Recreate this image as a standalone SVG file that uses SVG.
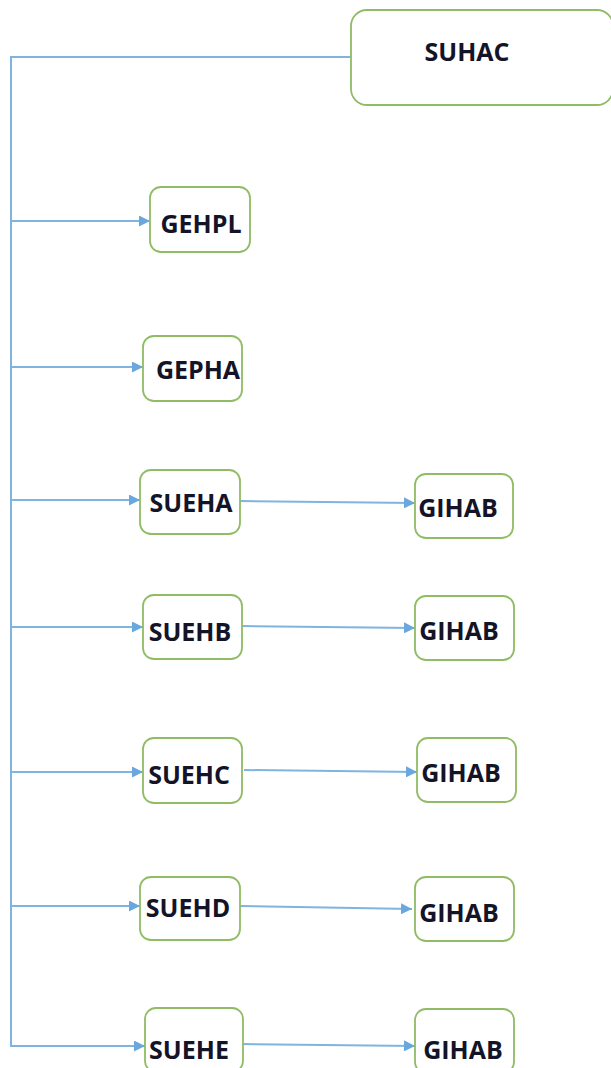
<svg xmlns="http://www.w3.org/2000/svg" width="611" height="1068" viewBox="0 0 611 1068">
  <style>
    .box { fill: #ffffff; stroke: #8fbc64; stroke-width: 1.8; }
    .lbl { font-family: "Open Sans", "Liberation Sans", sans-serif; font-weight: bold; font-size: 25px; fill: #141428; text-anchor: middle; }
    .wire { fill: none; stroke: #7fb3e0; stroke-width: 2; }
  </style>
  <defs>
    <marker id="arrow" viewBox="0 0 10 10" refX="10" refY="5" markerWidth="5.5" markerHeight="5.5" orient="auto" markerUnits="strokeWidth">
      <path d="M0,0 L10,5 L0,10 Z" fill="#6aa7dc"/>
    </marker>
  </defs>

  <rect width="611" height="1068" fill="#ffffff"/>

  <!-- connectors -->
  <g id="connectors">
    <!-- trunk from the root down the left margin -->
    <path class="wire" d="M351,57 H11 V1046 H145" marker-end="url(#arrow)"/>
    <path class="wire" d="M11,221 H150" marker-end="url(#arrow)"/>
    <path class="wire" d="M11,367 H143" marker-end="url(#arrow)"/>
    <path class="wire" d="M11,500 H140" marker-end="url(#arrow)"/>
    <path class="wire" d="M11,627 H143" marker-end="url(#arrow)"/>
    <path class="wire" d="M11,772 H143" marker-end="url(#arrow)"/>
    <path class="wire" d="M11,906 H140" marker-end="url(#arrow)"/>
    <!-- second-level links -->
    <path class="wire" d="M240,501 L415,503" marker-end="url(#arrow)"/>
    <path class="wire" d="M242,626 L415,628" marker-end="url(#arrow)"/>
    <path class="wire" d="M244,770 L417,772" marker-end="url(#arrow)"/>
    <path class="wire" d="M240,906 L412,909" marker-end="url(#arrow)"/>
    <path class="wire" d="M241,1044 L415,1046" marker-end="url(#arrow)"/>
  </g>

  <g id="SUHAC">
    <rect class="box" x="351" y="10" width="262" height="95" rx="16"/>
    <text class="lbl" x="467" y="61">SUHAC</text>
  </g>
  <g id="GEHPL">
    <rect class="box" x="150" y="187" width="100" height="65" rx="11"/>
    <text class="lbl" x="201" y="233">GEHPL</text>
  </g>
  <g id="GEPHA">
    <rect class="box" x="143" y="336" width="99" height="65" rx="11"/>
    <text class="lbl" x="198" y="379">GEPHA</text>
  </g>
  <g id="SUEHA">
    <rect class="box" x="140" y="470" width="100" height="64" rx="11"/>
    <text class="lbl" x="191" y="512">SUEHA</text>
  </g>
  <g id="GIHAB-1">
    <rect class="box" x="415" y="474" width="98" height="64" rx="11"/>
    <text class="lbl" x="458" y="517">GIHAB</text>
  </g>
  <g id="SUEHB">
    <rect class="box" x="143" y="595" width="99" height="64" rx="11"/>
    <text class="lbl" x="190" y="641">SUEHB</text>
  </g>
  <g id="GIHAB-2">
    <rect class="box" x="415" y="596" width="99" height="64" rx="11"/>
    <text class="lbl" x="459" y="640">GIHAB</text>
  </g>
  <g id="SUEHC">
    <rect class="box" x="143" y="738" width="99" height="65" rx="11"/>
    <text class="lbl" x="189" y="784">SUEHC</text>
  </g>
  <g id="GIHAB-3">
    <rect class="box" x="417" y="738" width="99" height="64" rx="11"/>
    <text class="lbl" x="461" y="782">GIHAB</text>
  </g>
  <g id="SUEHD">
    <rect class="box" x="140" y="877" width="100" height="63" rx="11"/>
    <text class="lbl" x="188" y="917">SUEHD</text>
  </g>
  <g id="GIHAB-4">
    <rect class="box" x="415" y="877" width="99" height="64" rx="11"/>
    <text class="lbl" x="459" y="922">GIHAB</text>
  </g>
  <g id="SUEHE">
    <rect class="box" x="145" y="1008" width="98" height="64" rx="11"/>
    <text class="lbl" x="189" y="1059">SUEHE</text>
  </g>
  <g id="GIHAB-5">
    <rect class="box" x="415" y="1009" width="99" height="64" rx="11"/>
    <text class="lbl" x="463" y="1059">GIHAB</text>
  </g>
</svg>
